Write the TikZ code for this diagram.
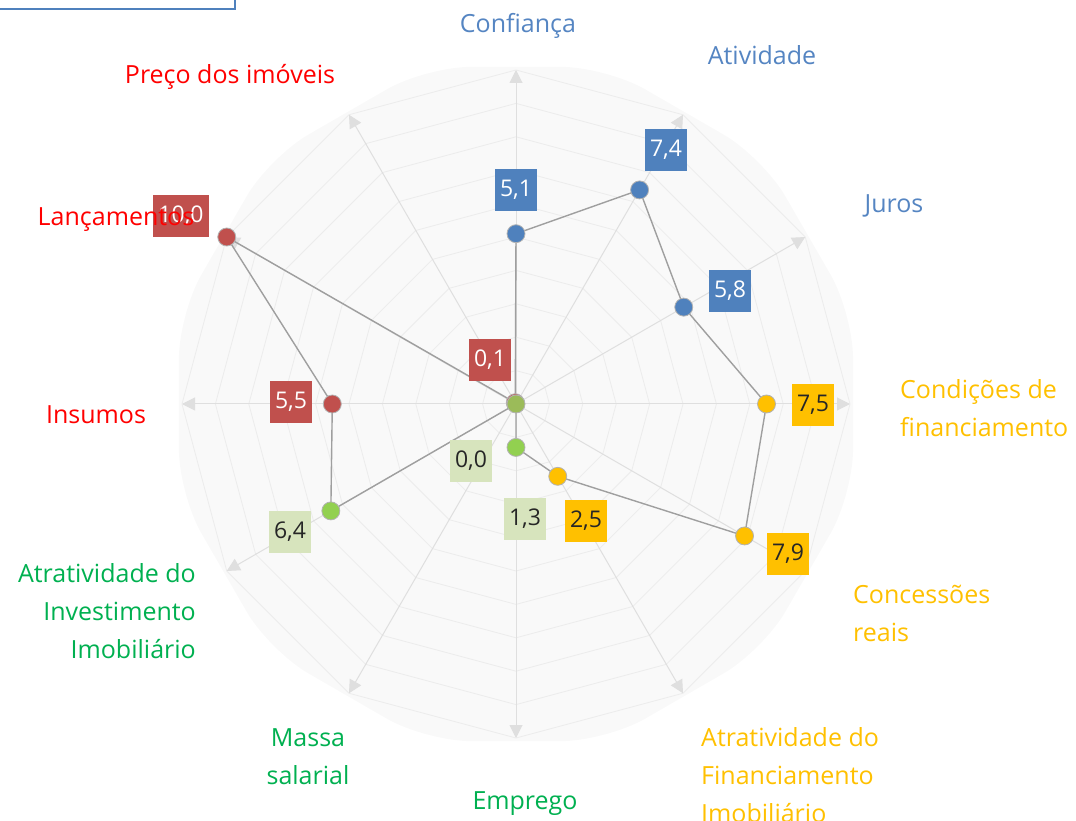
\documentclass[tikz,border=0pt]{standalone}
\usepackage{fontspec}
\setmainfont{Open Sans}
\usetikzlibrary{arrows.meta,backgrounds}

\definecolor{serieblue}{HTML}{4F81BD}
\definecolor{seriered}{HTML}{C0504D}
\definecolor{serieyellow}{HTML}{FFC000}
\definecolor{seriegreen}{HTML}{92D050}
\definecolor{centregreen}{HTML}{9BBB59}
\definecolor{palegreen}{HTML}{D7E4BD}
\definecolor{darktext}{HTML}{262626}
\definecolor{textblue}{HTML}{5585C2}
\definecolor{textgreen}{HTML}{00B050}
\definecolor{textred}{HTML}{FF0000}

\tikzset{
  dot/.style={circle, minimum size=18pt, inner sep=0pt, draw=gray!60, line width=0.8pt},
  valbox/.style={minimum height=42pt, inner xsep=5pt, inner ysep=0pt, font=\fontsize{23}{27}\selectfont},
  axislabel/.style={inner sep=0pt, font=\fontsize{25}{38}\selectfont},
  spoke/.style={draw=gray!25, line width=1pt, -{Triangle[width=13pt,length=13pt]}},
  link/.style={draw=gray!75, line width=1.4pt},
}

\begin{document}
\begin{tikzpicture}[x=1pt, y=1pt]
    \useasboundingbox (0,0) rectangle (1076,820);

    % Frame of the box above
    \draw[serieblue, line width=1.5pt] (-2,811) -- (235,811) -- (235,822);

    \begin{scope}[shift={(516,416)}]
        \coordinate (O) at (0,0);

        \begin{scope}[on background layer]
            % Plot area
            \fill[gray!5, rounded corners=45pt] (0:337) \foreach \a in {15,45,...,345} { -- (\a:349) } -- cycle;
            % Rings
            \foreach \k [evaluate=\k as \r using \k*33.4] in {1,...,10}
                \draw[gray!15, line width=0.8pt] (0:\r) \foreach \a in {30,60,...,330} { -- (\a:\r) } -- cycle;
            % Axes
            \foreach \a [count=\i] in {90,60,...,-240}
                \coordinate (a\i) at (\a:334);
            \foreach \i in {1,...,12}
                \draw[spoke] (O) -- (a\i);
        \end{scope}

        % Values
        \node[dot, fill=serieblue] (confianca) at (90:170.3) {};
        \node[dot, fill=serieblue] (atividade) at (60:247.2) {};
        \node[dot, fill=serieblue] (juros) at (30:193.7) {};
        \node[dot, fill=serieyellow] (condicoes) at (0:250.5) {};
        \node[dot, fill=serieyellow] (concessoes) at (-30:263.9) {};
        \node[dot, fill=serieyellow] (atrfin) at (-60:83.5) {};
        \node[dot, fill=seriegreen] (emprego) at (-90:43.4) {};
        \node[dot, fill=seriegreen] (atrinv) at (-150:213.8) {};
        \node[dot, fill=seriered] (insumos) at (180:183.7) {};
        \node[dot, fill=seriered] (lancamentos) at (150:334) {};
        \node[dot, fill=seriered] (preco) at (120:1.5) {};
        \node[dot, fill=centregreen] (massa) at (O) {};

        \begin{scope}[on background layer]
            \draw[link] (confianca.center) -- (atividade.center) -- (juros.center)
                -- (condicoes.center) -- (concessoes.center) -- (atrfin.center)
                -- (emprego.center) -- (massa.center) -- (atrinv.center)
                -- (insumos.center) -- (lancamentos.center) -- (preco.center)
                -- (confianca.center);
        \end{scope}
    \end{scope}

    % Data labels
    \node[valbox, fill=serieblue, text=white] (v-confianca) at (516,630) {5,1};
    \node[valbox, fill=serieblue, text=white] (v-atividade) at (666,670) {7,4};
    \node[valbox, fill=serieblue, text=white] (v-juros) at (730,529) {5,8};
    \node[valbox, fill=serieyellow, text=darktext] (v-condicoes) at (813,415) {7,5};
    \node[valbox, fill=serieyellow, text=darktext] (v-concessoes) at (788,266) {7,9};
    \node[valbox, fill=serieyellow, text=darktext] (v-atrfin) at (586,299) {2,5};
    \node[valbox, fill=palegreen, text=darktext] (v-emprego) at (525,301) {1,3};
    \node[valbox, fill=palegreen, text=darktext] (v-massa) at (471,359) {0,0};
    \node[valbox, fill=palegreen, text=darktext] (v-atrinv) at (290,288) {6,4};
    \node[valbox, fill=seriered, text=white] (v-insumos) at (291,418) {5,5};
    \node[valbox, fill=seriered, text=white] (v-lancamentos) at (181,604) {10,0};
    \node[valbox, fill=seriered, text=white] (v-preco) at (490,460) {0,1};

    % Axis labels
    \node[axislabel, text=textblue] (t-confianca) at (518,794) {Confiança};
    \node[axislabel, text=textblue] (t-atividade) at (762,765) {Atividade};
    \node[axislabel, text=textblue] (t-juros) at (894,614) {Juros};
    \node[axislabel, text=serieyellow, anchor=west, align=left] (t-condicoes) at (900,412) {Condições de\\financiamento};
    \node[axislabel, text=serieyellow, anchor=west, align=left] (t-concessoes) at (853,207) {Concessões\\reais};
    \node[axislabel, text=serieyellow, anchor=west, align=left] (t-atrfin) at (701,45) {Atratividade do\\Financiamento\\Imobiliário};
    \node[axislabel, text=textgreen] (t-emprego) at (525,16) {Emprego};
    \node[axislabel, text=textgreen, align=center] (t-massa) at (308,63) {Massa\\salarial};
    \node[axislabel, text=textgreen, anchor=east, align=right] (t-atrinv) at (196,209) {Atratividade do\\Investimento\\Imobiliário};
    \node[axislabel, text=textred] (t-insumos) at (96,405) {Insumos};
    \node[axislabel, text=textred] (t-lancamentos) at (116,600) {Lançamentos};
    \node[axislabel, text=textred] (t-preco) at (230,743) {Preço dos imóveis};
\end{tikzpicture}
\end{document}
